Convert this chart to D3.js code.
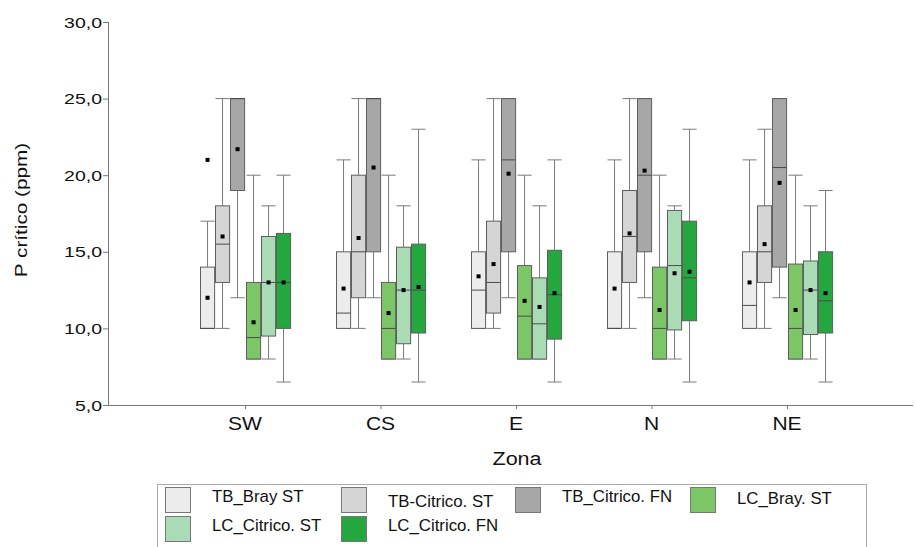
<!DOCTYPE html>
<html>
<head>
<meta charset="utf-8">
<script src="https://cdn.jsdelivr.net/npm/d3@7"></script>
<style>
  body { margin: 0; background: #fff; }
  text { font-family: "Liberation Sans", Arial, sans-serif; fill: #111; }
</style>
</head>
<body>
<svg id="chart" width="916" height="547"></svg>
<script>
// data
const zones = ["SW", "CS", "E", "N", "NE"];
const series = ["TB_Bray ST", "TB-Citrico. ST", "TB_Citrico. FN", "LC_Bray. ST", "LC_Citrico. ST", "LC_Citrico. FN"];
const colors = ["#ececec", "#d5d5d5", "#a7a7a7", "#7bc766", "#a9dcb5", "#22a83c"];
const yTicks = [5, 10, 15, 20, 25, 30];

// per series, one value per zone
const whiskerLow = [
  [10, 10, 10, 10, 10],
  [10, 10, 10, 10, 10],
  [12, 12, 12, 12, 12],
  [8, 8, 8, 8, 8],
  [8, 8, 8, 8, 8],
  [6.5, 6.5, 6.5, 6.5, 6.5]
];
const q1 = [
  [10, 10, 10, 10, 10],
  [13, 12, 11, 13, 13],
  [19, 15, 15, 15, 14],
  [8, 8, 8, 8, 8],
  [9.5, 9, 8, 9.9, 9.6],
  [10, 9.7, 9.3, 10.5, 9.7]
];
const median = [
  [10, 11, 12.5, 10, 11.5],
  [15.5, 15, 13, 16, 15],
  [25, 25, 21, 20, 20.5],
  [9.4, 10, 10.8, 10, 10],
  [13, 12.5, 10.3, 14.1, 12.5],
  [13, 12.5, 12.2, 13.3, 11.8]
];
const q3 = [
  [14, 15, 15, 15, 15],
  [18, 20, 17, 19, 18],
  [25, 25, 25, 25, 25],
  [13, 13, 14.1, 14, 14.2],
  [16, 15.3, 13.3, 17.7, 14.4],
  [16.2, 15.5, 15.1, 17, 15]
];
const whiskerHigh = [
  [17, 21, 21, 21, 21],
  [25, 25, 25, 25, 23],
  [25, 25, 25, 25, 25],
  [20, 20, 20, 20, 20],
  [18, 18, 18, 18, 18],
  [20, 23, 21, 23, 19]
];
const means = [
  [12, 12.6, 13.4, 12.6, 13],
  [16, 15.9, 14.2, 16.2, 15.5],
  [21.7, 20.5, 20.1, 20.3, 19.5],
  [10.4, 11, 11.8, 11.2, 11.2],
  [13, 12.5, 11.4, 13.6, 12.5],
  [13, 12.7, 12.3, 13.7, 12.3]
];
// extra point (series index, zone, value)
const outliers = [[0, "SW", 21]];

const svg = d3.select("#chart");
svg.append("rect").attr("width", 916).attr("height", 547).attr("fill", "#fff");

const y = d3.scaleLinear().domain([5, 30]).range([405, 22]);
const x = d3.scalePoint().domain(zones).range([245, 787]);
const xs = d3.scaleBand().domain(series).range([-45, 45]).paddingInner(0.07);
const bw = xs.bandwidth();

// stretched text helper (the source font is wide)
function label(g, str, px, py, size, sx, anchor) {
  return g.append("text")
    .attr("transform", `translate(${px},${py}) scale(${sx},1)`)
    .attr("text-anchor", anchor || "start")
    .style("font-size", size + "px")
    .text(str);
}

// axes
const axisCol = "#777";
svg.append("line").attr("x1", 108.5).attr("x2", 108.5).attr("y1", y(30)).attr("y2", y(5))
  .attr("stroke", axisCol);
svg.append("line").attr("x1", 108).attr("x2", 913).attr("y1", y(5) + 0.5).attr("y2", y(5) + 0.5)
  .attr("stroke", axisCol);

yTicks.forEach(t => {
  svg.append("line").attr("x1", 103).attr("x2", 108).attr("y1", y(t) + 0.5).attr("y2", y(t) + 0.5)
    .attr("stroke", axisCol);
  label(svg, d3.format(".1f")(t).replace(".", ","), 102, y(t) + 5.5, 15, 1.3, "end");
});

zones.forEach(z => {
  svg.append("line").attr("x1", x(z) + 0.5).attr("x2", x(z) + 0.5).attr("y1", y(5)).attr("y2", y(5) + 4)
    .attr("stroke", axisCol);
  label(svg, z, x(z), 430, 18, 1.17, "middle");
});

label(svg, "Zona", 517, 465, 17.5, 1.23, "middle");
svg.append("text")
  .attr("transform", `translate(27,210) rotate(-90) scale(1.22,1)`)
  .attr("text-anchor", "middle")
  .style("font-size", "17px")
  .text("P crítico (ppm)");

// boxes
const plot = svg.append("g");
series.forEach((s, si) => {
  zones.forEach((z, zi) => {
    const x0 = Math.round(x(z) + xs(s)) + 0.5;
    const cx = x0 + bw / 2;
    const g = plot.append("g");
    // whiskers
    g.append("line").attr("x1", cx).attr("x2", cx)
      .attr("y1", y(whiskerHigh[si][zi])).attr("y2", y(q3[si][zi]))
      .attr("stroke", "#7a7a7a");
    g.append("line").attr("x1", cx).attr("x2", cx)
      .attr("y1", y(q1[si][zi])).attr("y2", y(whiskerLow[si][zi]))
      .attr("stroke", "#7a7a7a");
    [whiskerHigh[si][zi], whiskerLow[si][zi]].forEach(v => {
      g.append("line").attr("x1", x0).attr("x2", x0 + bw)
        .attr("y1", y(v)).attr("y2", y(v)).attr("stroke", "#7a7a7a");
    });
    // box
    g.append("rect")
      .attr("x", x0).attr("width", bw)
      .attr("y", y(q3[si][zi])).attr("height", y(q1[si][zi]) - y(q3[si][zi]))
      .attr("fill", colors[si]).attr("stroke", "#5e5e5e").attr("stroke-width", 1);
    g.append("line").attr("x1", x0).attr("x2", x0 + bw)
      .attr("y1", y(median[si][zi])).attr("y2", y(median[si][zi]))
      .attr("stroke", "#4a4a4a");
    // mean
    g.append("rect").attr("x", cx - 2).attr("y", y(means[si][zi]) - 2)
      .attr("width", 4).attr("height", 4).attr("fill", "#000");
  });
});

outliers.forEach(([si, z, v]) => {
  const cx = Math.round(x(z) + xs(series[si])) + 0.5 + bw / 2;
  plot.append("rect").attr("x", cx - 2).attr("y", y(v) - 2)
    .attr("width", 4).attr("height", 4).attr("fill", "#000");
});

// legend
const lg = svg.append("g");
lg.append("rect").attr("x", 157.5).attr("y", 484.5).attr("width", 709).attr("height", 70)
  .attr("fill", "#fff").attr("stroke", "#aaa");
const colX = [165, 341, 515, 690];
series.forEach((s, i) => {
  const col = i % 4, row = Math.floor(i / 4);
  const sx = colX[col], sy = 487 + row * 29;
  lg.append("rect").attr("x", sx + 0.5).attr("y", sy + 0.5).attr("width", 25).attr("height", 25)
    .attr("fill", colors[i]).attr("stroke", "#777");
  const drop = (i === 1) ? 5 : (i === 3 ? 2 : 0);
  label(lg, s, sx + 47, sy + 15 + drop, 16, 1.05, "start");
});
</script>
</body>
</html>
